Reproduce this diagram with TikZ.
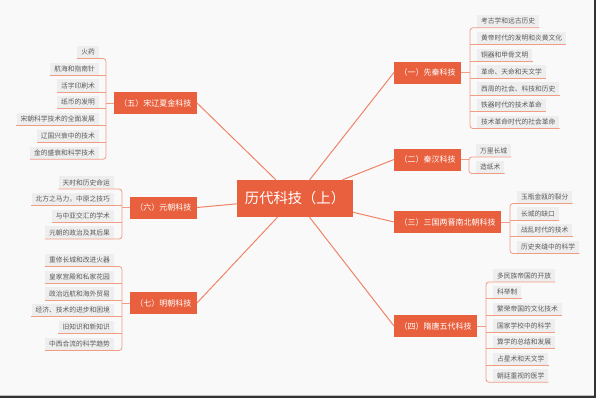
\documentclass[tikz,border=0pt]{standalone}
\usepackage{fontspec}
\newfontfamily\cjk{Noto Sans CJK SC}
\definecolor{mainred}{HTML}{E9603E}
\definecolor{linkred}{HTML}{EF8468}
\definecolor{underred}{HTML}{F29C86}
\definecolor{leaffill}{HTML}{EEEEEE}
\definecolor{leaftext}{HTML}{5A5A5A}
\definecolor{bgcol}{HTML}{F9F9F9}
\begin{document}
\begin{tikzpicture}[x=1pt,y=-1pt,
 rootbox/.style={fill=mainred, text=white, font=\cjk\fontsize{14.3}{16}\selectfont, inner xsep=8pt, inner ysep=0pt, minimum height=37pt},
 branch/.style={fill=mainred, text=white, font=\cjk\fontsize{8}{10}\selectfont, inner xsep=5.5pt, inner ysep=0pt, minimum height=22pt},
 leaf/.style={fill=leaffill, text=leaftext, font=\cjk\fontsize{6.75}{8}\selectfont, inner xsep=4pt, inner ysep=0pt, minimum height=12.5pt},
 link/.style={draw=linkred, line width=1pt},
 brace/.style={draw=underred, line width=0.8pt, rounded corners=3pt},
]
\useasboundingbox (0,0) rectangle (598,400);
\fill[bgcol] (0,0) rectangle (598,400);
\fill[white] (596,0) rectangle (598,400);
\fill[white] (0,398) rectangle (598,400);
\fill[black!80] (593.5,0) rectangle (596,398);
\fill[black!80] (0,396) rectangle (596,398);
\fill[black!25] (0,395) rectangle (593.5,396);

% root
\node[rootbox] (root) at (295,198.5) {历代科技（上）};

% branches
\node[branch, anchor=west] (b1) at (394,72.5) {（一）先秦科技};
\node[branch, anchor=west] (b2) at (394,159.5) {（二）秦汉科技};
\node[branch, anchor=west] (b3) at (394,222) {（三）三国两晋南北朝科技};
\node[branch, anchor=west] (b4) at (394,326) {（四）隋唐五代科技};
\node[branch, anchor=east] (b5) at (197,103) {（五）宋辽夏金科技};
\node[branch, anchor=east] (b6) at (197,207.5) {（六）元朝科技};
\node[branch, anchor=east] (b7) at (197,303) {（七）明朝科技};

\draw[link] (root) -- (b1.west);
\draw[link] (root) -- (b2.west);
\draw[link] (root) -- (b3.west);
\draw[link] (root) -- (b4.west);
\draw[link] (root) -- (b5.east);
\draw[link] (root) -- (b6.east);
\draw[link] (root) -- (b7.east);

% group 1
\foreach \t [count=\i from 0] in {考古学和远古历史,黄帝时代的发明和炎黄文化,铜器和甲骨文明,革命、天命和天文学,西周的社会、科技和历史,铁器时代的技术革命,技术革命时代的社会革命}
  \node[leaf, anchor=west] (g1-\i) at (477,{21.3+16.8*\i}) {\t};
\coordinate (k1) at (470,72.5);
\draw[brace] (b1.east) -- (k1);
\draw[brace] (g1-0.south east) -- (g1-0.south west) -- (k1 |- g1-0.south) -- (k1 |- g1-6.south) -- (g1-6.south west) -- (g1-6.south east);
\foreach \i in {1,...,5} \draw[brace] (k1 |- g1-\i.south) -- (g1-\i.south east);

% group 2
\foreach \t [count=\i from 0] in {万里长城,造纸术}
  \node[leaf, anchor=west] (g2-\i) at (476,{150.5+16.6*\i}) {\t};
\coordinate (k2) at (469,159.5);
\draw[brace] (b2.east) -- (k2);
\draw[brace] (g2-0.south east) -- (g2-0.south west) -- (k2 |- g2-0.south) -- (k2 |- g2-1.south) -- (g2-1.south west) -- (g2-1.south east);

% group 3
\foreach \t [count=\i from 0] in {玉瓶金瓯的裂分,长城的缺口,战乱时代的技术,历史夹缝中的科学}
  \node[leaf, anchor=west] (g3-\i) at (517,{197+16.7*\i}) {\t};
\coordinate (k3) at (510,222);
\draw[brace] (b3.east) -- (k3);
\draw[brace] (g3-0.south east) -- (g3-0.south west) -- (k3 |- g3-0.south) -- (k3 |- g3-3.south) -- (g3-3.south west) -- (g3-3.south east);
\foreach \i in {1,2} \draw[brace] (k3 |- g3-\i.south) -- (g3-\i.south east);

% group 4
\foreach \t [count=\i from 0] in {多民族帝国的开放,科举制,繁荣帝国的文化技术,国家学校中的科学,算学的总结和发展,占星术和天文学,朝廷重视的医学}
  \node[leaf, anchor=west] (g4-\i) at (493,{275.5+16.7*\i}) {\t};
\coordinate (k4) at (486,326);
\draw[brace] (b4.east) -- (k4);
\draw[brace] (g4-0.south east) -- (g4-0.south west) -- (k4 |- g4-0.south) -- (k4 |- g4-6.south) -- (g4-6.south west) -- (g4-6.south east);
\foreach \i in {1,...,5} \draw[brace] (k4 |- g4-\i.south) -- (g4-\i.south east);

% group 5
\foreach \t [count=\i from 0] in {火药,航海和指南针,活字印刷术,纸币的发明,宋朝科学技术的全面发展,辽国兴衰中的技术,金的盛衰和科学技术}
  \node[leaf, anchor=east] (g5-\i) at (99,{52+16.8*\i}) {\t};
\coordinate (k5) at (106,103);
\draw[brace] (b5.west) -- (k5);
\draw[brace] (g5-0.south west) -- (g5-0.south east) -- (k5 |- g5-0.south) -- (k5 |- g5-6.south) -- (g5-6.south east) -- (g5-6.south west);
\foreach \i in {1,...,5} \draw[brace] (k5 |- g5-\i.south) -- (g5-\i.south west);

% group 6
\foreach \t [count=\i from 0] in {天时和历史命运,北方之马力，中原之技巧,与中亚交汇的学术,元朝的政治及其后果}
  \node[leaf, anchor=east] (g6-\i) at (114,{182.5+16.7*\i}) {\t};
\coordinate (k6) at (122,207.5);
\draw[brace] (b6.west) -- (k6);
\draw[brace] (g6-0.south west) -- (g6-0.south east) -- (k6 |- g6-0.south) -- (k6 |- g6-3.south) -- (g6-3.south east) -- (g6-3.south west);
\foreach \i in {1,2} \draw[brace] (k6 |- g6-\i.south) -- (g6-\i.south west);

% group 7
\foreach \t [count=\i from 0] in {重修长城和改进火器,皇家宫殿和私家花园,政治远航和海外贸易,经济、技术的进步和困境,旧知识和新知识,中西合流的科学趋势}
  \node[leaf, anchor=east] (g7-\i) at (114,{260+16.8*\i}) {\t};
\coordinate (k7) at (122,303);
\draw[brace] (b7.west) -- (k7);
\draw[brace] (g7-0.south west) -- (g7-0.south east) -- (k7 |- g7-0.south) -- (k7 |- g7-5.south) -- (g7-5.south east) -- (g7-5.south west);
\foreach \i in {1,...,4} \draw[brace] (k7 |- g7-\i.south) -- (g7-\i.south west);
\end{tikzpicture}
\end{document}
